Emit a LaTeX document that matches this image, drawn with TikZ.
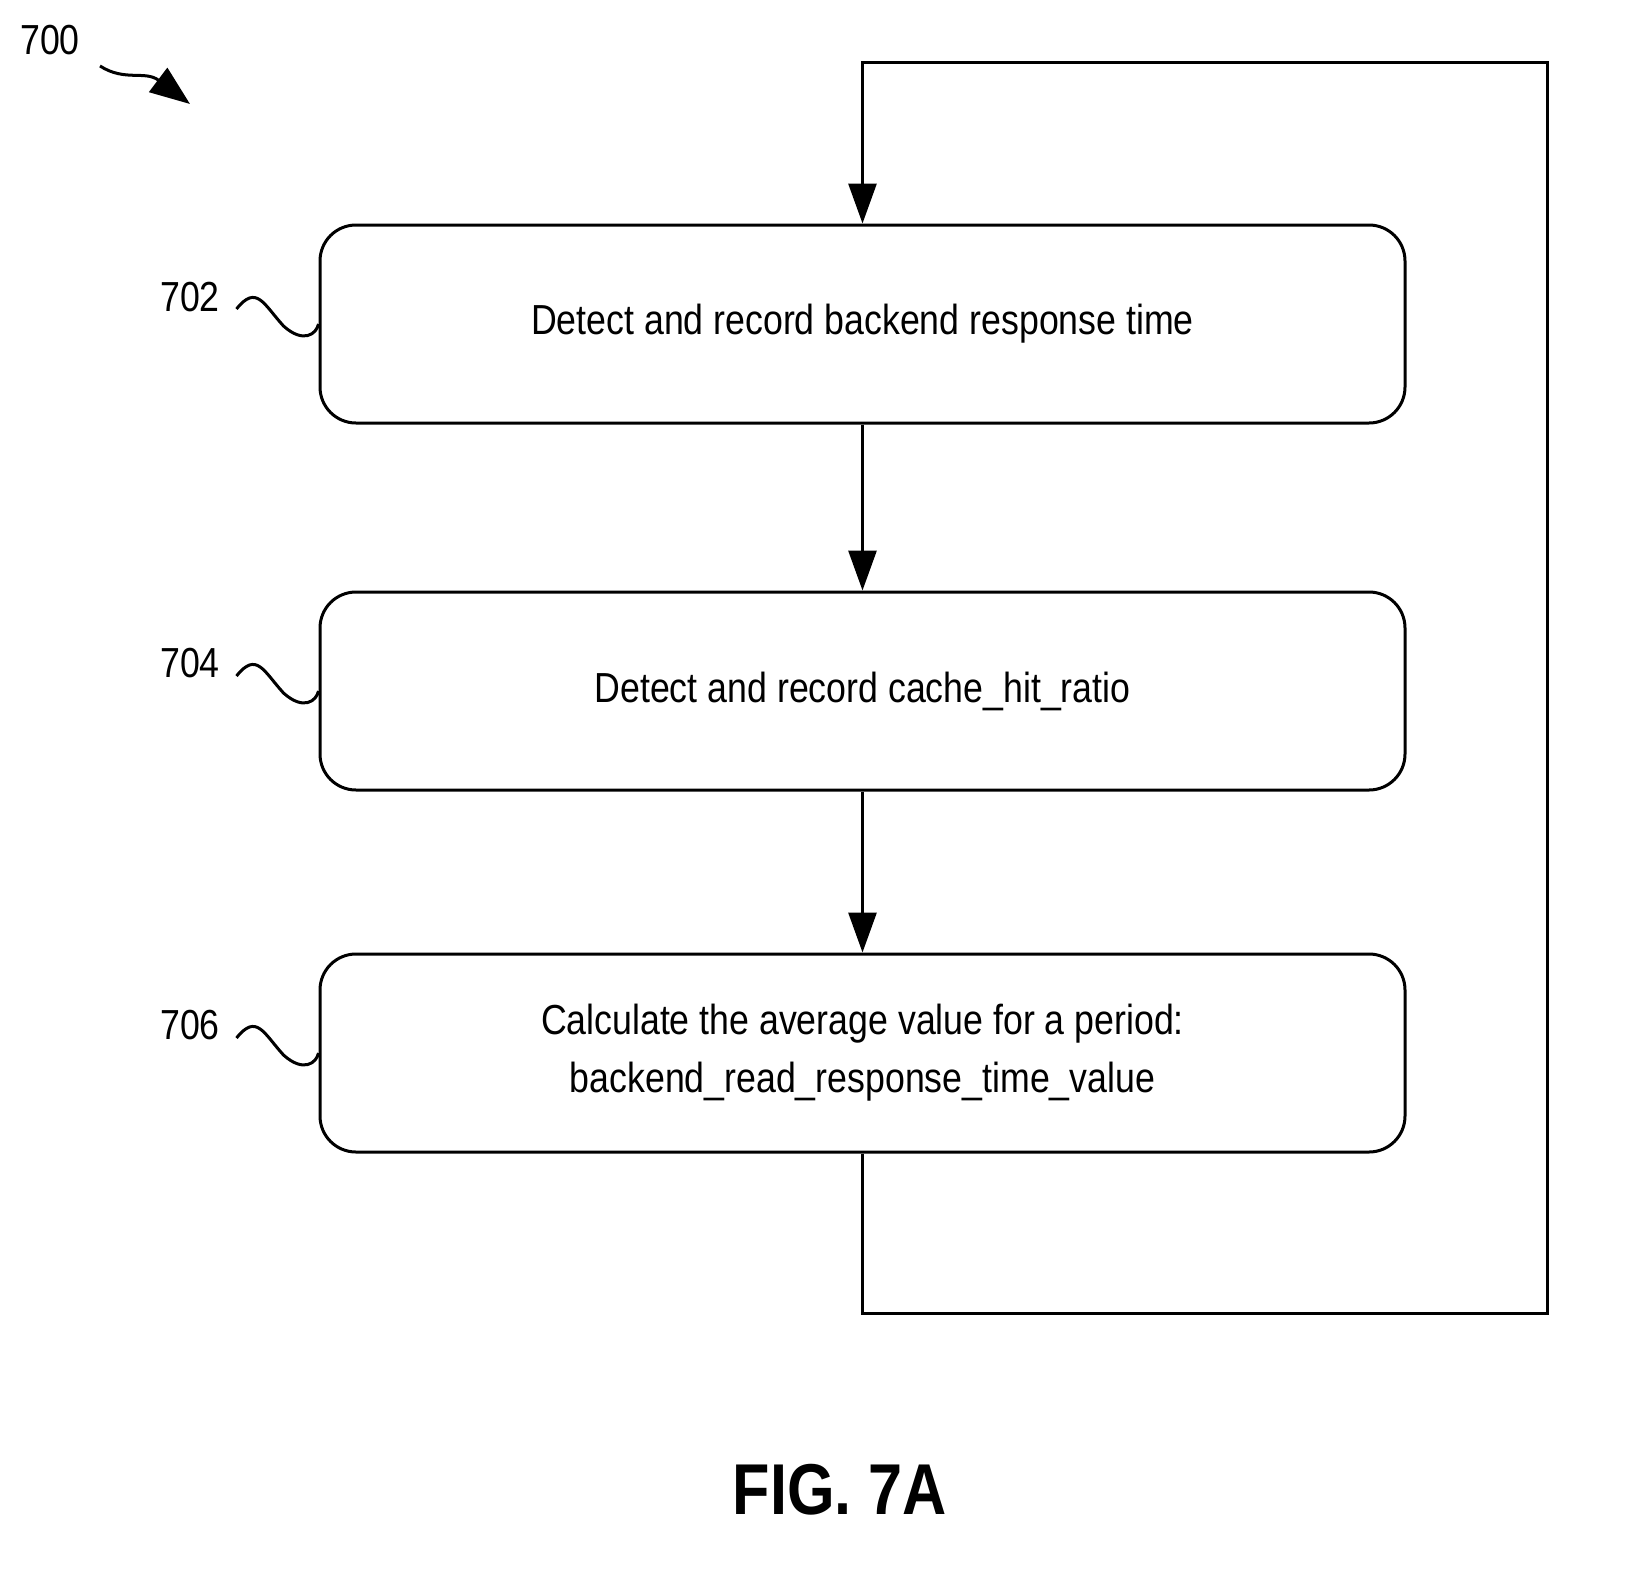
\documentclass[tikz,border=0pt]{standalone}
\usepackage{fontspec}
\setmainfont{Liberation Sans}[FakeStretch=0.85]
\usetikzlibrary{positioning}
\usetikzlibrary{arrows.meta}

\tikzset{
  stepbox/.style={draw=black, line width=3pt, rounded corners=36pt, minimum width=1085pt, minimum height=198pt, align=center, font=\fontsize{42pt}{58pt}\selectfont},
  flow/.style={line width=3pt, -{Triangle[length=40pt, width=28pt]}},
  tag/.style={font=\fontsize{42pt}{50pt}\selectfont},
  wiggle/.style={line width=3pt}
}

\begin{document}
\begin{tikzpicture}[x=1pt, y=-1pt]
\useasboundingbox (0,0) rectangle (1625,1593);
\node (s702) [stepbox] at (862.5, 324) {Detect and record backend response time};
\node (s704) [stepbox] at (862.5, 691) {Detect and record cache\_hit\_ratio};
\node (s706) [stepbox] at (862.5, 1053) {Calculate the average value for a period:\\backend\_read\_response\_time\_value};
\coordinate (lb) at (862.5, 1313);
\coordinate (rb) at (1547, 1313);
\coordinate (rt) at (1547, 62);
\coordinate (lt) at (862.5, 62);
\draw [flow] (s702) -- (s704);
\draw [flow] (s704) -- (s706);
\draw [flow] (s706.south) -- (lb) -- (rb) -- (rt) -- (lt) -- (s702.north);
% reference labels
\node (n700) [tag] at (50, 40) {700};
\node (n702) [tag] at (190, 297) {702};
\node (n704) [tag] at (190, 663) {704};
\node (n706) [tag] at (190, 1025) {706};
\coordinate (a0) at (100, 66);
\coordinate (a1) at (190, 104);
\draw [wiggle, -{Triangle[length=40pt, width=30pt]}] (a0) .. controls (125, 82) and (145, 70) .. (a1);
\foreach \k in {s702, s704, s706}
  \draw [wiggle] ([xshift=-82pt, yshift=15pt]\k.west) .. controls ([xshift=-62pt, yshift=40pt]\k.west) and ([xshift=-55pt, yshift=20pt]\k.west) .. ([xshift=-35pt, yshift=-2pt]\k.west) .. controls ([xshift=-15pt, yshift=-20pt]\k.west) and ([xshift=-2pt, yshift=-10pt]\k.west) .. (\k.west);
\node (fig) [font=\bfseries\fontsize{72pt}{80pt}\selectfont] at (840, 1490) {FIG. 7A};
\end{tikzpicture}
\end{document}
